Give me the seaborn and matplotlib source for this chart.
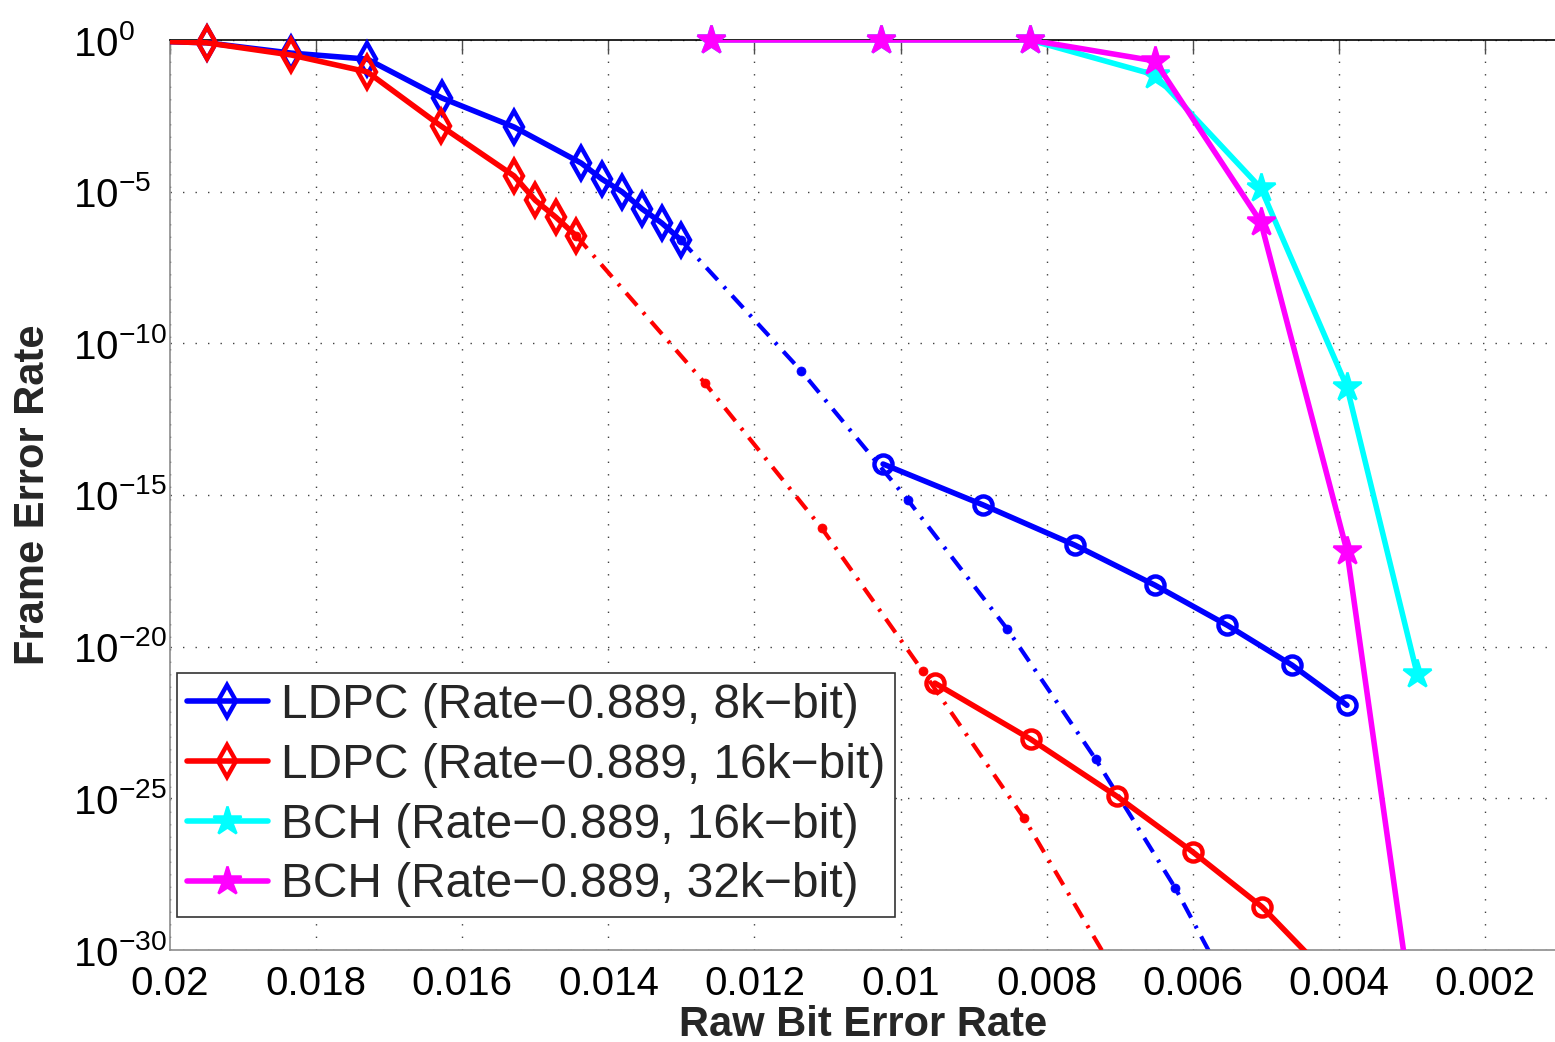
import matplotlib
matplotlib.use("Agg")
import matplotlib.pyplot as plt
from matplotlib.lines import Line2D
from matplotlib.ticker import FixedLocator, FixedFormatter, NullLocator, LogFormatterSciNotation
import seaborn as sns

# ---------------- data ----------------
# LDPC rate-0.889, 8k-bit: simulated points
ldpc8k_sim_ber = [0.0205, 0.0195, 0.01834, 0.0173, 0.01628, 0.01529, 0.01437,
                  0.01409, 0.01381, 0.01354, 0.01327, 0.01301]
ldpc8k_sim_fer = [0.955, 0.81, 0.37, 0.234, 1.23e-2, 1.35e-3, 8.7e-5,
                  2.6e-5, 9.8e-6, 2.7e-6, 9.3e-7, 2.6e-7]
# LDPC rate-0.889, 8k-bit: extrapolated waterfall
ldpc8k_ext_ber = [0.01301, 0.01136, 0.0099, 0.00854, 0.00733, 0.00624, 0.0053]
ldpc8k_ext_fer = [2.6e-7, 1.23e-11, 6.8e-16, 3.8e-20, 1.95e-24, 1.1e-28, 6.3e-33]
# LDPC rate-0.889, 8k-bit: error-floor estimate
ldpc8k_floor_ber = [0.01024, 0.00887, 0.00761, 0.00652, 0.00553, 0.00464, 0.00389]
ldpc8k_floor_fer = [1.05e-14, 4.7e-16, 2.2e-17, 1.07e-18, 5.1e-20, 2.45e-21, 1.17e-22]

# LDPC rate-0.889, 16k-bit: simulated points
ldpc16k_sim_ber = [0.0205, 0.0195, 0.01834, 0.0173, 0.01629, 0.01529, 0.0150,
                   0.01472, 0.01444]
ldpc16k_sim_fer = [0.955, 0.81, 0.32, 0.089, 1.45e-3, 3.3e-5, 5.2e-6,
                   1.45e-6, 3.5e-7]
# LDPC rate-0.889, 16k-bit: extrapolated waterfall
ldpc16k_ext_ber = [0.01444, 0.01268, 0.01108, 0.0097, 0.00831, 0.00712]
ldpc16k_ext_fer = [3.5e-7, 4.9e-12, 8.1e-17, 1.6e-21, 2.2e-26, 3.0e-31]
# LDPC rate-0.889, 16k-bit: error-floor estimate
ldpc16k_floor_ber = [0.00953, 0.00822, 0.00704, 0.0060, 0.00505, 0.0040]
ldpc16k_floor_fer = [6.3e-22, 8.9e-24, 1.17e-25, 1.7e-27, 2.6e-29, 6.3e-32]

# BCH rate-0.889
bch_ber = [0.01259, 0.01027, 0.00823, 0.00652, 0.00507, 0.00389, 0.00293]
bch16k_fer = [1.0, 1.0, 1.0, 0.071, 1.32e-5, 3.6e-12, 1.26e-21]
bch32k_fer = [1.0, 1.0, 1.0, 0.204, 1.0e-6, 1.4e-17, 6.3e-34]

series_labels = ["LDPC (Rate\u22120.889, 8k\u2212bit)",
                 "LDPC (Rate\u22120.889, 16k\u2212bit)",
                 "BCH (Rate\u22120.889, 16k\u2212bit)",
                 "BCH (Rate\u22120.889, 32k\u2212bit)"]

x_ticks = [0.02, 0.018, 0.016, 0.014, 0.012, 0.01, 0.008, 0.006, 0.004, 0.002]
x_tick_labels = ["0.02", "0.018", "0.016", "0.014", "0.012", "0.01",
                 "0.008", "0.006", "0.004", "0.002"]
y_ticks = [1e-30, 1e-25, 1e-20, 1e-15, 1e-10, 1e-5, 1e0]

# ---------------- style ----------------
sns.set_style("white")
plt.rcParams["font.family"] = ["Liberation Sans", "DejaVu Sans"]
plt.rcParams["mathtext.fontset"] = "custom"
plt.rcParams["mathtext.rm"] = "Liberation Sans"
plt.rcParams["mathtext.it"] = "Liberation Sans:italic"
plt.rcParams["mathtext.bf"] = "Liberation Sans:bold"

BLUE, RED, CYAN, MAGENTA = "#0000ff", "#ff0000", "#00ffff", "#ff00ff"
XMAX, XMIN = 0.02, 0.02 - 1386 / 73060
YMIN, YMAX = 1e-30, 1.0
LW = 4.0

fig = plt.figure(figsize=(15.55, 10.42), dpi=100)
ax = fig.add_axes([170 / 1555, 92 / 1042, 1386 / 1555, 910 / 1042])
ax.set_yscale("log")

MARK = {
    "diamond": dict(marker="d", markersize=16, markerfacecolor="none", markeredgewidth=3.2),
    "circle": dict(marker="o", markersize=13, markerfacecolor="none", markeredgewidth=3.2),
    "star": dict(marker="*", markersize=21, markeredgewidth=1.8),
    "dot": dict(marker="o", markersize=6.5, markeredgewidth=0.5),
}


def draw(xs, ys, color, lw, ls, mark, z):
    # line (clipped to the axes)
    sns.lineplot(x=xs, y=ys, ax=ax, color=color, linewidth=lw, linestyle=ls,
                 sort=False, estimator=None, legend=False, zorder=z)
    # markers (left unclipped, only for points inside the axes range)
    keep = [(x, y) for x, y in zip(xs, ys)
            if YMIN <= y <= YMAX * 1.01 and XMIN <= x <= XMAX]
    px = [p[0] for p in keep]
    py = [p[1] for p in keep]
    m = dict(MARK[mark])
    if m.get("markerfacecolor") != "none":
        m["markerfacecolor"] = color
    sns.lineplot(x=px, y=py, ax=ax, color=color, linestyle="none",
                 markeredgecolor=color, sort=False, estimator=None,
                 legend=False, clip_on=False, zorder=z + 0.1, **m)


DASHDOT = (0, (4.0, 2.2, 0.7, 2.2))

draw(ldpc8k_sim_ber, ldpc8k_sim_fer, BLUE, LW, "-", "diamond", 3)
draw(ldpc16k_sim_ber, ldpc16k_sim_fer, RED, LW, "-", "diamond", 3.2)
draw(bch_ber, bch16k_fer, CYAN, LW, "-", "star", 3.4)
draw(bch_ber, bch32k_fer, MAGENTA, LW, "-", "star", 3.6)
draw(ldpc8k_ext_ber, ldpc8k_ext_fer, BLUE, 3.0, DASHDOT, "dot", 2.5)
draw(ldpc16k_ext_ber, ldpc16k_ext_fer, RED, 3.0, DASHDOT, "dot", 2.6)
draw(ldpc8k_floor_ber, ldpc8k_floor_fer, BLUE, LW, "-", "circle", 3.8)
draw(ldpc16k_floor_ber, ldpc16k_floor_fer, RED, LW, "-", "circle", 4.0)

# ---------------- axes ----------------
ax.set_xlim(XMAX, XMIN)
ax.set_ylim(YMIN, YMAX)
ax.xaxis.set_major_locator(FixedLocator(x_ticks))
ax.xaxis.set_major_formatter(FixedFormatter(x_tick_labels))
ax.yaxis.set_major_locator(FixedLocator(y_ticks))
ax.yaxis.set_major_formatter(LogFormatterSciNotation())
ax.yaxis.set_minor_locator(NullLocator())
ax.xaxis.set_minor_locator(NullLocator())

ax.grid(True, which="major", linestyle=(0, (1, 8)), color="0.25", linewidth=1.0)
ax.set_axisbelow(True)
ax.tick_params(axis="both", which="major", direction="in", length=10, width=1,
               color="0.3", labelsize=29, labelcolor="black", top=True, right=False)
ax.tick_params(axis="x", pad=11)
# y labels: the "10" bases share a common left edge
ax.tick_params(axis="y", pad=70)
for lab in ax.get_yticklabels():
    lab.set_horizontalalignment("left")

for side in ("left", "bottom"):
    ax.spines[side].set_color("0.55")
    ax.spines[side].set_linewidth(1.2)
ax.spines["top"].set_color("black")
ax.spines["top"].set_linewidth(1.2)
ax.spines["right"].set_visible(False)

ax.set_xlabel("Raw Bit Error Rate", fontsize=30, fontweight="bold", labelpad=1)
ax.set_ylabel("Frame Error Rate", fontsize=30, fontweight="bold", labelpad=14)

# ---------------- legend ----------------
handles = [
    Line2D([], [], color=BLUE, linewidth=LW, markeredgecolor=BLUE, **MARK["diamond"]),
    Line2D([], [], color=RED, linewidth=LW, markeredgecolor=RED, **MARK["diamond"]),
    Line2D([], [], color=CYAN, linewidth=LW, markeredgecolor=CYAN,
           **{**MARK["star"], "markerfacecolor": CYAN}),
    Line2D([], [], color=MAGENTA, linewidth=LW, markeredgecolor=MAGENTA,
           **{**MARK["star"], "markerfacecolor": MAGENTA}),
]
leg = ax.legend(handles, series_labels, loc="lower left",
                bbox_to_anchor=(7 / 1386, 33 / 910), borderaxespad=0,
                fontsize=34.5, frameon=True, fancybox=False, framealpha=1,
                edgecolor="0.2", handlelength=1.7, handletextpad=0.28,
                borderpad=0.2, labelspacing=0.31, numpoints=1)
leg.get_frame().set_linewidth(1.2)
leg.set_zorder(10)

fig.savefig("out.png", dpi=100)
